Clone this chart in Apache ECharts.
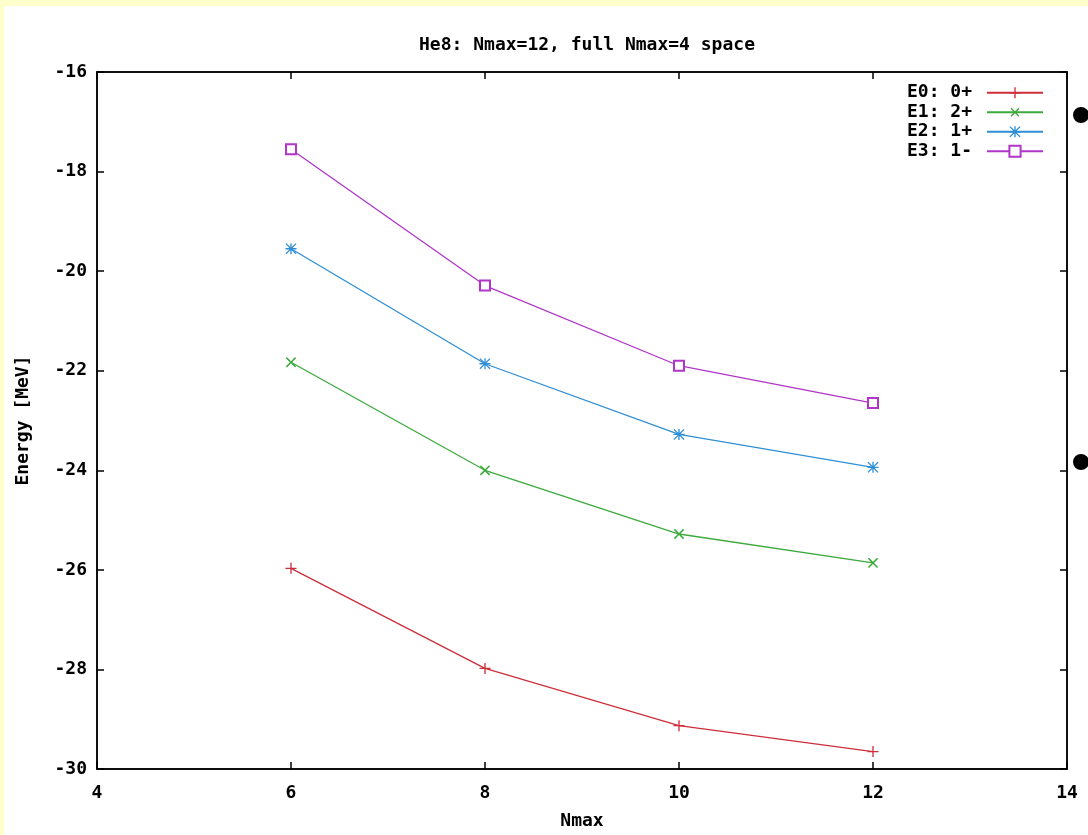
<!DOCTYPE html>
<html>
<head>
<meta charset="utf-8">
<script src="https://cdn.jsdelivr.net/npm/echarts@6/dist/echarts.min.js"></script>
<style>
html,body{margin:0;padding:0;background:#ffffcc;width:1088px;height:835px;overflow:hidden;}
#c{position:absolute;left:4px;top:6px;width:1084px;height:829px;background:#ffffff;}
</style>
</head>
<body>
<div id="c"></div>
<script>
var nmax = [6, 8, 10, 12];
var seriesNames = ['E0: 0+', 'E1: 2+', 'E2: 1+', 'E3: 1-'];
var e0 = [-25.97, -27.98, -29.13, -29.65];
var e1 = [-21.83, -24.00, -25.28, -25.86];
var e2 = [-19.55, -21.86, -23.28, -23.94];
var e3 = [-17.55, -20.29, -21.90, -22.65];
var title = 'He8: Nmax=12, full Nmax=4 space';
var xName = 'Nmax';
var yName = 'Energy [MeV]';

var FONT = '"DejaVu Sans Mono", monospace';
var plusPath = 'path://M4.4,0H5.6V4.4H10V5.6H5.6V10H4.4V5.6H0V4.4H4.4Z';
var starPath = 'path://M4.4,0H5.6V4.4H10V5.6H5.6V10H4.4V5.6H0V4.4H4.4Z M0.8,0L5,4.2L9.2,0L10,0.8L5.8,5L10,9.2L9.2,10L5,5.8L0.8,10L0,9.2L4.2,5L0,0.8Z';

function pairs(arr){ return nmax.map(function(x,i){ return [x, arr[i]]; }); }

var colors = ['#cc2f3a', '#3caa3c', '#2f8fd6', '#b035c8'];
var symbols = [
  {symbol: plusPath, size: 11, rotate: 0},
  {symbol: plusPath, size: 13, rotate: 45},
  {symbol: starPath, size: 11, rotate: 0},
  {symbol: 'emptyRect', size: 10, rotate: 0}
];
var datas = [e0, e1, e2, e3];

var series = datas.map(function(d, i){
  var s = symbols[i];
  return {
    name: seriesNames[i],
    type: 'line',
    data: pairs(d),
    symbol: s.symbol,
    symbolSize: s.size,
    symbolRotate: s.rotate,
    showAllSymbol: true,
    lineStyle: {color: colors[i], width: 1.3},
    itemStyle: i === 3 ? {color: colors[i], borderColor: colors[i], borderWidth: 1.3} : {color: colors[i], borderWidth: 0},
    emphasis: {disabled: true},
    animation: false
  };
});

var chart = echarts.init(document.getElementById('c'));
chart.setOption({
  animation: false,
  title: {
    text: title,
    left: 578, top: 25, textAlign: 'center',
    textStyle: {fontFamily: FONT, fontSize: 18, fontWeight: 'bold', color: '#000'}
  },
  legend: {
    orient: 'vertical',
    right: 39, top: 72,
    align: 'right',
    itemWidth: 56, itemHeight: 14, itemGap: 0,
    textStyle: {fontFamily: FONT, fontSize: 18, fontWeight: 'bold', color: '#000', lineHeight: 19.5, padding: [0, 10, 0, 0]},
    data: seriesNames,
    selectedMode: false
  },
  grid: {left: 93, right: 21, top: 66, bottom: 65, show: true, borderColor: '#000', borderWidth: 1.5, backgroundColor: 'transparent'},
  xAxis: [{
    type: 'value', min: 4, max: 14, interval: 2,
    name: xName, nameLocation: 'middle', nameGap: 43,
    nameTextStyle: {fontFamily: FONT, fontSize: 18, fontWeight: 'bold', color: '#000'},
    axisLine: {show: true, lineStyle: {color: '#000', width: 1.5}},
    axisTick: {show: true, inside: true, length: 7, lineStyle: {color: '#000', width: 1.5}},
    axisLabel: {fontFamily: FONT, fontSize: 18, fontWeight: 'bold', color: '#000', margin: 15},
    splitLine: {show: false}
  }, {
    type: 'value', min: 4, max: 14, interval: 2, position: 'top',
    axisLine: {show: true, lineStyle: {color: '#000', width: 1.5}},
    axisTick: {show: true, inside: true, length: 7, lineStyle: {color: '#000', width: 1.5}},
    axisLabel: {show: false}, splitLine: {show: false}
  }],
  yAxis: [{
    type: 'value', min: -30, max: -16, interval: 2,
    name: yName, nameLocation: 'middle', nameGap: 65, nameRotate: 90,
    nameTextStyle: {fontFamily: FONT, fontSize: 18, fontWeight: 'bold', color: '#000'},
    axisLine: {show: true, lineStyle: {color: '#000', width: 1.5}},
    axisTick: {show: true, inside: true, length: 7, lineStyle: {color: '#000', width: 1.5}},
    axisLabel: {fontFamily: FONT, fontSize: 18, fontWeight: 'bold', color: '#000', margin: 10},
    splitLine: {show: false}
  }, {
    type: 'value', min: -30, max: -16, interval: 2, position: 'right',
    axisLine: {show: true, lineStyle: {color: '#000', width: 1.5}},
    axisTick: {show: true, inside: true, length: 7, lineStyle: {color: '#000', width: 1.5}},
    axisLabel: {show: false}, splitLine: {show: false}
  }],
  graphic: [
    {type: 'circle', shape: {cx: 1077, cy: 109, r: 8}, style: {fill: '#000'}, silent: true},
    {type: 'circle', shape: {cx: 1077, cy: 456, r: 8}, style: {fill: '#000'}, silent: true}
  ],
  series: series
});
</script>
</body>
</html>
